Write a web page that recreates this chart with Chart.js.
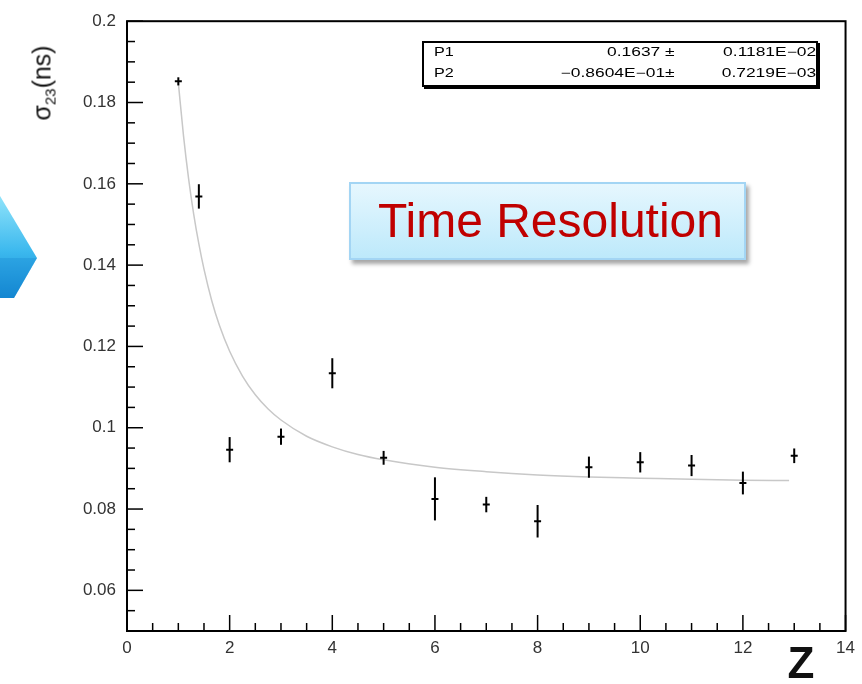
<!DOCTYPE html>
<html>
<head>
<meta charset="utf-8">
<script src="https://cdn.jsdelivr.net/npm/chart.js@4.4.0/dist/chart.umd.min.js"></script>
<style>
html,body{margin:0;padding:0;background:#fff;}
#wrap{position:relative;width:862px;height:684px;overflow:hidden;font-family:"Liberation Sans",Arial,sans-serif;}
#c{position:absolute;left:0;top:0;}
.st{position:absolute;font-size:12px;line-height:12px;white-space:nowrap;color:#000;}
#stats{position:absolute;left:422px;top:41px;width:392px;height:42px;border:2px solid #000;box-shadow:2px 2px 0 #000;background:#fff;}
#tr{position:absolute;left:349px;top:182px;width:397px;height:78px;box-sizing:border-box;border:2px solid #a3d5f4;
  background:linear-gradient(#e6f7fe,#bde9fb);box-shadow:3px 4px 4px rgba(0,0,0,0.35);
  color:#c00000;font-size:48px;line-height:74px;text-align:center;padding-left:6px;white-space:nowrap;}
#ytitle{position:absolute;left:43px;top:83px;transform:translate(-50%,-50%) rotate(-90deg);font-size:25px;white-space:nowrap;color:#111;}
#ytitle sub{font-size:15px;vertical-align:-5px;}
#xtitle{position:absolute;left:801px;top:663px;transform:translate(-50%,-50%);font-size:44px;font-weight:bold;color:#111;}
</style>
</head>
<body>
<div id="wrap">
  <svg width="60" height="684" style="position:absolute;left:0;top:0">
    <defs>
      <linearGradient id="ag" x1="0" y1="0" x2="0" y2="1">
        <stop offset="0" stop-color="#8fe3fa"/>
        <stop offset="0.55" stop-color="#3bb8ee"/>
        <stop offset="1" stop-color="#1185d0"/>
      </linearGradient>
    </defs>
    <polygon points="0,196 37,258 14,298 0,298" fill="url(#ag)"/>
    <polygon points="0,258 37,258 14,298 0,298" fill="#1a8ad3" opacity="0.35"/>
  </svg>
  <canvas id="c" width="862" height="684"></canvas>
  <div id="stats"></div>
  <div id="tr">Time Resolution</div>
  <div id="ytitle">σ<sub>23</sub>(ns)</div>
  <div id="xtitle">Z</div>
</div>
<script>
// ---- data ----
const zValues = [1, 1.4, 2, 3, 4, 5, 6, 7, 8, 9, 10, 11, 12, 13];
const sigmaValues = [0.1852, 0.1569, 0.0946, 0.0978, 0.1134, 0.0926, 0.0825, 0.0811, 0.0770, 0.0903, 0.0915, 0.0907, 0.0864, 0.0931];
const sigmaErrors = [0.0010, 0.0030, 0.0031, 0.0020, 0.0037, 0.0017, 0.0053, 0.0019, 0.0040, 0.0026, 0.0025, 0.0026, 0.0028, 0.0018];

const fitZ = [1, 1.1, 1.2, 1.3, 1.4, 1.5, 1.65, 1.8, 2, 2.25, 2.5, 2.75, 3, 3.5, 4, 4.5, 5, 6, 7, 8, 9, 10, 11, 12, 12.9];
const fitSigma = [0.1849, 0.1719, 0.1613, 0.1525, 0.1452, 0.1390, 0.1313, 0.1252, 0.1188, 0.1127, 0.1081, 0.1046, 0.1019, 0.0979, 0.0953, 0.0934, 0.0921, 0.0903, 0.0892, 0.0884, 0.0879, 0.0876, 0.0873, 0.0871, 0.0870];

const xTickValues = [0, 2, 4, 6, 8, 10, 12, 14];
const xTickLabels = ['0', '2', '4', '6', '8', '10', '12', '14'];
const yTickValues = [0.06, 0.08, 0.1, 0.12, 0.14, 0.16, 0.18, 0.2];
const yTickLabels = ['0.06', '0.08', '0.1', '0.12', '0.14', '0.16', '0.18', '0.2'];

const fitParams = ['P1', 'P2'];
const fitParamValues = ['0.1637 \u00b1', '\u22120.8604E\u221201\u00b1'];
const fitParamErrors = ['0.1181E\u221202', '0.7219E\u221203'];

// ---- stats box text ----
(function(){
  const wrap = document.getElementById('wrap');
  const rowY = [46, 67];
  fitParams.forEach((p, i) => {
    const a = document.createElement('span');
    a.className = 'st'; a.textContent = p;
    a.style.left = '434px'; a.style.top = rowY[i] + 'px';
    a.style.transform = 'scaleX(1.35)'; a.style.transformOrigin = 'left center';
    wrap.appendChild(a);
    const b = document.createElement('span');
    b.className = 'st'; b.textContent = fitParamValues[i];
    b.style.right = (862 - 675) + 'px'; b.style.top = rowY[i] + 'px';
    b.style.transform = 'scaleX(1.45)'; b.style.transformOrigin = 'right center';
    wrap.appendChild(b);
    const c = document.createElement('span');
    c.className = 'st'; c.textContent = fitParamErrors[i];
    c.style.right = (862 - 816) + 'px'; c.style.top = rowY[i] + 'px';
    c.style.transform = 'scaleX(1.45)'; c.style.transformOrigin = 'right center';
    wrap.appendChild(c);
  });
})();

// ---- plugin: frame, tick marks, error bars ----
const rootStyle = {
  id: 'rootStyle',
  afterDatasetsDraw(chart) {
    const ctx = chart.ctx, xs = chart.scales.x, ys = chart.scales.y, a = chart.chartArea;
    ctx.save();
    ctx.strokeStyle = '#000'; ctx.lineWidth = 2;
    zValues.forEach((z, i) => {
      const px = xs.getPixelForValue(z);
      ctx.beginPath();
      ctx.moveTo(px, ys.getPixelForValue(sigmaValues[i] - sigmaErrors[i]));
      ctx.lineTo(px, ys.getPixelForValue(sigmaValues[i] + sigmaErrors[i]));
      ctx.stroke();
    });
    ctx.lineWidth = 1.5;
    for (let k = 10; k <= 40; k++) {
      const py = ys.getPixelForValue(k * 0.005);
      const len = (k % 4 === 0) ? 16 : 8;
      ctx.beginPath(); ctx.moveTo(a.left, py); ctx.lineTo(a.left + len, py); ctx.stroke();
    }
    for (let k = 0; k <= 28; k++) {
      const px = xs.getPixelForValue(k * 0.5);
      const len = (k % 4 === 0) ? 16 : 8;
      ctx.beginPath(); ctx.moveTo(px, a.bottom); ctx.lineTo(px, a.bottom - len); ctx.stroke();
    }
    ctx.lineWidth = 2;
    ctx.strokeRect(a.left, a.top, a.right - a.left, a.bottom - a.top);
    ctx.restore();
  }
};

new Chart(document.getElementById('c'), {
  type: 'scatter',
  data: {
    datasets: [
      {
        label: 'fit',
        data: fitZ.map((z, i) => ({x: z, y: fitSigma[i]})),
        showLine: true,
        borderColor: '#c8c8c8',
        borderWidth: 1.5,
        pointRadius: 0,
        cubicInterpolationMode: 'monotone',
        order: 2
      },
      {
        label: 'data',
        data: zValues.map((z, i) => ({x: z, y: sigmaValues[i]})),
        showLine: false,
        pointStyle: 'line',
        pointRadius: 3.5,
        borderColor: '#000',
        backgroundColor: '#000',
        borderWidth: 2,
        order: 1
      }
    ]
  },
  options: {
    responsive: false,
    animation: false,
    layout: {padding: {left: 0, right: 14, top: 20, bottom: 0}},
    plugins: {legend: {display: false}, tooltip: {enabled: false}},
    scales: {
      x: {
        type: 'linear', min: 0, max: 14,
        grid: {display: false, drawTicks: false},
        border: {display: false},
        afterBuildTicks: s => { s.ticks = xTickValues.map(v => ({value: v})); },
        afterFit: s => { s.height = 53; },
        ticks: {
          autoSkip: false, maxRotation: 0, padding: 7, color: '#333',
          font: {family: 'Liberation Sans', size: 17},
          callback: (v, i) => xTickLabels[i]
        }
      },
      y: {
        type: 'linear', min: 0.05, max: 0.2,
        grid: {display: false, drawTicks: false},
        border: {display: false},
        afterBuildTicks: s => { s.ticks = yTickValues.map(v => ({value: v})); },
        afterFit: s => { s.width = 127; },
        ticks: {
          autoSkip: false, padding: 11, color: '#333',
          font: {family: 'Liberation Sans', size: 17},
          callback: (v, i) => yTickLabels[i]
        }
      }
    }
  },
  plugins: [rootStyle]
});
</script>
</body>
</html>
